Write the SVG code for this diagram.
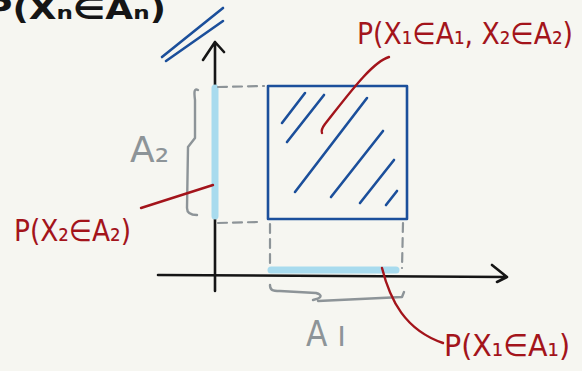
<svg xmlns="http://www.w3.org/2000/svg" width="582" height="371" viewBox="0 0 582 371">
<style>
.ax{stroke:#151515;stroke-width:2.6;fill:none;stroke-linecap:round;stroke-linejoin:round}
.sq{stroke:#1b4f9b;stroke-width:2.6;fill:none;stroke-linecap:round;stroke-linejoin:round}
.lb{stroke:#a8dbee;stroke-width:7;stroke-linecap:round;fill:none}
.gd{stroke:#8d9498;stroke-width:2.2;fill:none;stroke-dasharray:9 6;stroke-linecap:round}
.gb{stroke:#8d9498;stroke-width:2.4;fill:none;stroke-linecap:round;stroke-linejoin:round}
.rl{stroke:#a3141b;stroke-width:2.4;fill:none;stroke-linecap:round}
.rt{fill:#a3141b;font-family:"DejaVu Sans Condensed","DejaVu Sans","Liberation Sans",sans-serif}
.gt{fill:#8d9498;font-family:"DejaVu Sans","Liberation Sans",sans-serif}
.bt{fill:#151515;font-family:"DejaVu Sans","Liberation Sans",sans-serif;font-weight:bold}
</style>
<rect width="582" height="371" fill="#f6f6f1"/>

<g id="topleft">
<text class="bt" x="-14" y="19" font-size="30" textLength="180" lengthAdjust="spacingAndGlyphs">P(Xₙ∈Aₙ)</text>
<path class="sq" d="M162,57 L223,8 M166,61 L223,21"/>
</g>

<g id="axes">
<path class="ax" d="M215,42 L215,291 M203,60 L215,42 L224,52"/>
<path class="ax" d="M158,275 L507,277 M492,265 L507,277 L497,282"/>
</g>

<g id="projections">
<path class="lb" d="M215,88 L215,216"/>
<path class="lb" d="M271,270 L396,270"/>
<path class="gd" d="M218,87 L264,86 M218,223 L258,222 M270,224 L270,266 M403,223 L402,268"/>
</g>

<g id="square">
<rect class="sq" x="268" y="86" width="139" height="133"/>
<path class="sq" d="M282,123 L305,93 M287,142 L324,95 M295,192 L367,98 M331,197 L383,131 M360,203 L394,160 M386,205 L397,191"/>
</g>

<g id="brace-a2">
<path class="gb" d="M198,90 C194,88 194,92 195,100 L195,138 L188,147 L187,208 C187,214 192,215 197,215"/>
<text class="gt" x="130" y="162" font-size="36">A₂</text>
</g>

<g id="brace-a1">
<path class="gb" d="M270,285 C270,290 272,291 280,291 L316,293 C323,295 322,298 313,300 M318,301 L402,297 L404,292"/>
<text class="gt" x="306" y="346" font-size="36" textLength="40" lengthAdjust="spacingAndGlyphs">A ı</text>
</g>

<g id="label-joint">
<text class="rt" x="357" y="44" font-size="30" textLength="216" lengthAdjust="spacingAndGlyphs">P(X₁∈A₁, X₂∈A₂)</text>
</g>
<g id="label-x2">
<text class="rt" x="14" y="241" font-size="30" textLength="117" lengthAdjust="spacingAndGlyphs">P(X₂∈A₂)</text>
</g>
<g id="label-x1">
<text class="rt" x="444" y="356" font-size="31" textLength="126" lengthAdjust="spacingAndGlyphs">P(X₁∈A₁)</text>
</g>

<g id="connectors">
<path class="rl" d="M389,57 C372,62 348,95 325,124 C322,128 321,131 322,133"/>
<path class="rl" d="M141,208 L213,185"/>
<path class="rl" d="M382,268 C390,300 405,330 443,343"/>
</g>
</svg>
